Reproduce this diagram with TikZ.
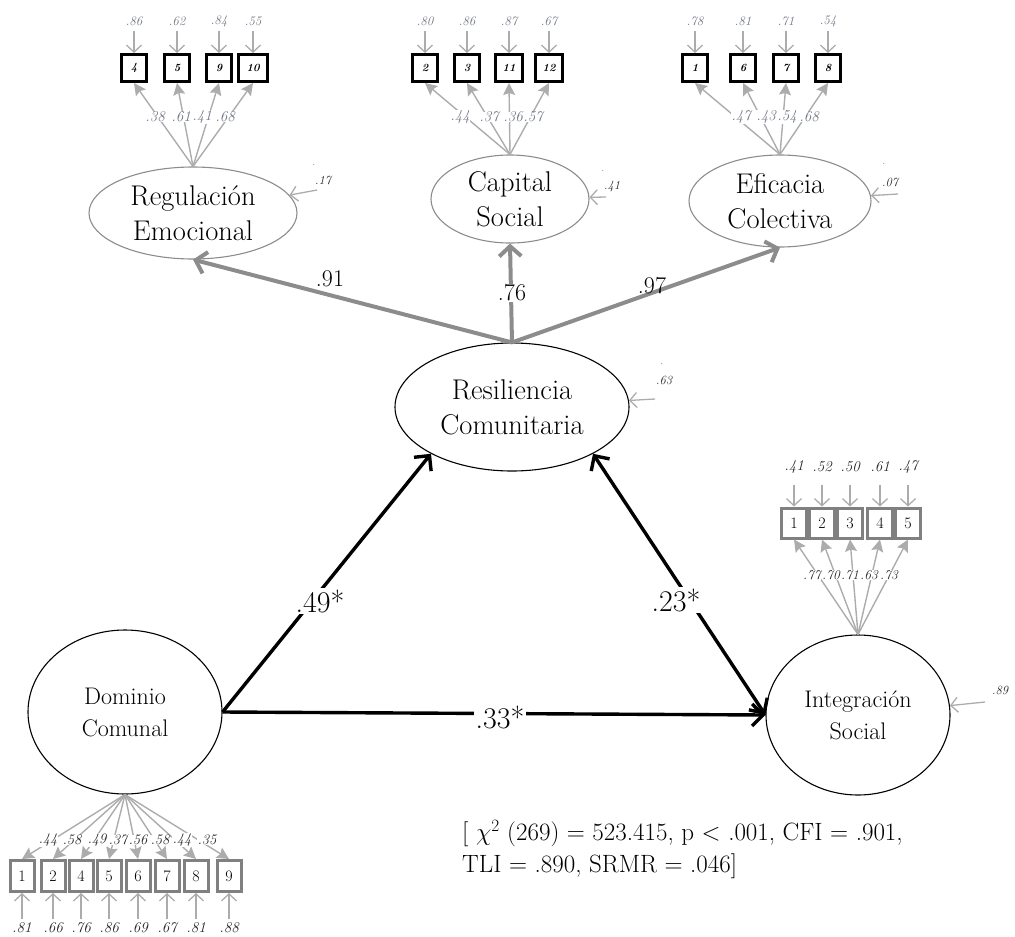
\documentclass[tikz,border=0pt]{standalone}
\usepackage{fontspec}
\usetikzlibrary{shapes.geometric,arrows.meta}

\definecolor{pathgrey}{RGB}{140,140,140}
\definecolor{linegrey}{RGB}{172,172,172}
\definecolor{labgrey}{RGB}{112,118,132}
\definecolor{boxgrey}{RGB}{128,128,128}

\tikzset{
  lat/.style={ellipse, draw, line width=1.1pt, inner sep=0pt, align=center},
  latbig/.style={lat, font=\fontsize{28.5}{35}\selectfont},
  latsmall/.style={lat, font=\fontsize{24}{32}\selectfont},
  topbox/.style={draw=black, line width=3pt, fill=white, inner sep=0pt,
    minimum width=25pt, minimum height=27pt, font=\fontsize{11}{11}\selectfont\bfseries\itshape},
  lowbox/.style={draw=boxgrey, line width=3pt, fill=white, inner sep=0pt,
    minimum width=24pt, minimum height=31pt, font=\fontsize{16}{16}\selectfont},
  errarr/.style={draw=linegrey, line width=1.3pt, -{Straight Barb[length=7pt,width=15pt]}},
  loadarr/.style={draw=linegrey, line width=1.4pt, -{Stealth[length=12pt,width=12pt,inset=2pt]}},
  toplab/.style={text=labgrey, font=\fontsize{13}{13}\selectfont\itshape, inner sep=0pt},
  toploadlab/.style={text=labgrey, font=\fontsize{15}{15}\selectfont\itshape, fill=white, inner sep=0.3pt},
  lowlab/.style={text=black!85, font=\fontsize{15}{15}\selectfont\itshape, inner sep=0pt},
  lowloadlab/.style={text=black!85, font=\fontsize{14.5}{14.5}\selectfont\itshape, fill=white, inner sep=0.3pt},
  resarr/.style={draw=linegrey, line width=1.3pt, -{Straight Barb[length=7pt,width=15pt]}},
  reslab/.style={text=black!85, font=\fontsize{12.5}{12.5}\selectfont\itshape, inner sep=0pt},
  greypath/.style={draw=pathgrey, line width=4pt, -{Straight Barb[length=10pt,width=22pt]}},
  blackpath/.style={draw=black, line width=3.4pt, -{Straight Barb[length=11pt,width=22pt]}},
  pathlab/.style={font=\fontsize{24}{24}\selectfont, inner sep=1pt},
  coeflab/.style={font=\fontsize{30}{30}\selectfont, fill=white, inner sep=2pt}
}

\begin{document}
\begin{tikzpicture}[x=1pt,y=-1pt]
\useasboundingbox (0,0) rectangle (1015,937);

% latent variables
\node[latbig, draw=pathgrey, minimum width=208pt, minimum height=92pt] (reg) at (193,213) {Regulación\\Emocional};
\node[latbig, draw=pathgrey, minimum width=158pt, minimum height=88pt] (cap) at (510,199) {Capital\\Social};
\node[latbig, draw=pathgrey, minimum width=182pt, minimum height=92pt] (efi) at (780,201) {Eficacia\\Colectiva};
\node[latbig, minimum width=234pt, minimum height=128pt] (res) at (512,407) {Resiliencia\\Comunitaria};
\node[latsmall, minimum width=194pt, minimum height=164pt] (dom) at (125,712) {Dominio\\Comunal};
\node[latsmall, minimum width=184pt, minimum height=160pt] (int) at (858,715) {Integración\\Social};

% second-order loadings
\draw[greypath] (res.north) -- (reg.south);
\draw[greypath] (res.north) -- (cap.south);
\draw[greypath] (res.north) -- (efi.south);
\node[pathlab] at (330,279) {.91};
\node[pathlab, fill=white, inner sep=0.5pt] at (512,293) {.76};
\node[pathlab] at (652,286) {.97};

% structural paths
\draw[blackpath] (dom.east) -- (res.210);
\draw[blackpath] (dom.east) -- (int.west);
\draw[blackpath, {Straight Barb[length=11pt,width=22pt]}-{Straight Barb[length=11pt,width=22pt]}] (int.west) -- (res.330);
\node[coeflab] at (320,601) {.49*};
\node[coeflab] at (676,600) {.23*};
\node[coeflab] at (500,717) {.33*};

% indicators of Regulación Emocional
\foreach \n/\x/\e/\w in {4/134/.86/25, 5/177/.62/25, 9/219/.84/25, 10/253/.55/29} {
  \node[topbox, minimum width=\w pt] (r\n) at (\x,68) {\n};
  \path (r\n.north) ++(0,-22) coordinate (re\n);
  \draw[errarr] (re\n) -- (r\n.north);
  \node[toplab] at (\x,21) {\e};
  \draw[loadarr] (reg.north) -- (r\n.south);
}
% indicators of Capital Social
\foreach \n/\x/\e/\w in {2/425/.80/25, 3/467/.86/25, 11/509/.87/27, 12/549/.67/27} {
  \node[topbox, minimum width=\w pt] (c\n) at (\x,68) {\n};
  \path (c\n.north) ++(0,-22) coordinate (ce\n);
  \draw[errarr] (ce\n) -- (c\n.north);
  \node[toplab] at (\x,21) {\e};
  \draw[loadarr] (cap.north) -- (c\n.south);
}
% indicators of Eficacia Colectiva
\foreach \n/\x/\e in {1/695/.78, 6/743/.81, 7/786/.71, 8/828/.54} {
  \node[topbox] (e\n) at (\x,68) {\n};
  \path (e\n.north) ++(0,-22) coordinate (ee\n);
  \draw[errarr] (ee\n) -- (e\n.north);
  \node[toplab] at (\x,21) {\e};
  \draw[loadarr] (efi.north) -- (e\n.south);
}
\foreach \x/\l in {155/.38, 181/.61, 202/.41, 225/.68,
                   460/.44, 489/.37, 513/.36, 533/.57,
                   741/.47, 766/.43, 787/.54, 809/.68}
  \node[toploadlab] at (\x,117) {\l};

% indicators of Integración Social
\foreach \n/\x/\e in {1/794/.41, 2/822/.52, 3/850/.50, 4/880/.61, 5/908/.47} {
  \node[lowbox, minimum height=30pt, minimum width=25pt] (i\n) at (\x,523) {\n};
  \path (i\n.north) ++(0,-22) coordinate (ie\n);
  \draw[errarr] (ie\n) -- (i\n.north);
  \node[lowlab] at (\x,467) {\e};
  \draw[loadarr] (int.north) -- (i\n.south);
}
\foreach \x/\l in {812/.77, 831/.70, 850/.71, 869/.63, 889/.73}
  \node[lowloadlab, font=\fontsize{13.5}{13.5}\selectfont\itshape, inner sep=0pt] at (\x,575) {\l};

% indicators of Dominio Comunal
\foreach \n/\x/\e in {1/22/.81, 2/53/.66, 4/81/.76, 5/109/.86, 6/138/.69, 7/167/.67, 8/196/.81, 9/229/.88} {
  \node[lowbox] (d\n) at (\x,876) {\n};
  \path (d\n.south) ++(0,26) coordinate (de\n);
  \draw[errarr] (de\n) -- (d\n.south);
  \node[lowlab] at (\x,928) {\e};
  \draw[loadarr] (dom.south) -- (d\n.north);
}
\foreach \x/\l in {48/.44, 72/.58, 97/.49, 118/.37, 138/.56, 160/.58, 182/.44, 207/.35}
  \node[lowloadlab] at (\x,840) {\l};

% disturbances of the endogenous factors
\coordinate (regd) at (317,190);
\coordinate (capd) at (606,197);
\coordinate (efid) at (898,194);
\coordinate (resd) at (655,399);
\coordinate (intd) at (985,702);
\draw[resarr] (regd) -- (reg);
\draw[resarr] (capd) -- (cap);
\draw[resarr] (efid) -- (efi);
\draw[resarr] (resd) -- (res);
\draw[resarr] (intd) -- (int);
\node[reslab] at (323,180) {.17};
\node[reslab] at (612,187) {.41};
\node[reslab] at (890,182) {.07};
\node[reslab] at (664,380) {.63};
\node[reslab] at (1000,690) {.89};
\foreach \x/\y in {314/165, 603/171, 884/164, 662/364}
  \node[reslab, font=\fontsize{9}{9}\selectfont] at (\x,\y) {.};

% fit indices
\node[anchor=north west, align=left, inner sep=0pt, font=\fontsize{25}{32}\selectfont]
  (fit) at (462,820) {[ $\chi^{2}$ (269) = 523.415, p < .001, CFI = .901,\\TLI = .890, SRMR = .046]};
\end{tikzpicture}
\end{document}
